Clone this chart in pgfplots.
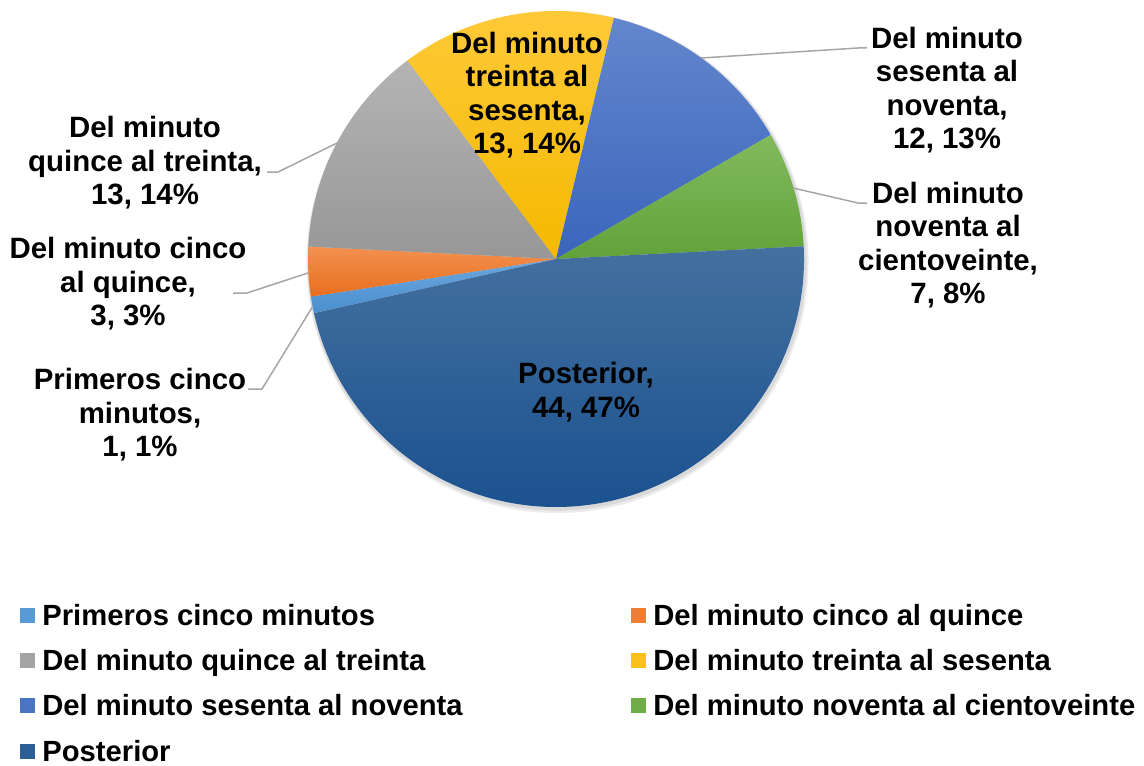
\documentclass[border=0pt]{standalone}
\usepackage{pgfplots}
\usepackage{pgfplotstable}
\pgfplotsset{compat=1.18}
\usepackage{fontspec}
\setmainfont{Liberation Sans}

% slice colours (gradient top -> bottom)
\definecolor{top0}{HTML}{6CA7DD}\definecolor{bot0}{HTML}{4A8FD0}
\definecolor{top1}{HTML}{F39150}\definecolor{bot1}{HTML}{E86E1F}
\definecolor{top2}{HTML}{B4B4B4}\definecolor{bot2}{HTML}{979797}
\definecolor{top3}{HTML}{FFCA3A}\definecolor{bot3}{HTML}{F4B900}
\definecolor{top4}{HTML}{6387CD}\definecolor{bot4}{HTML}{3A65BC}
\definecolor{top5}{HTML}{82BA5C}\definecolor{bot5}{HTML}{62A23A}
\definecolor{top6}{HTML}{44709F}\definecolor{bot6}{HTML}{1A518F}
\definecolor{leader}{HTML}{A6A6A6}

% value, label position (px)
\pgfplotstableread{
value lx  ly
1     140 415
3     128 284
13    145 163
13    527 95
12    947 90
7     948 245
44    586 392
}\piedata

\expandafter\def\csname lab0\endcsname{Primeros cinco\\minutos,}
\expandafter\def\csname lab1\endcsname{Del minuto cinco\\al quince,}
\expandafter\def\csname lab2\endcsname{Del minuto\\quince al treinta,}
\expandafter\def\csname lab3\endcsname{Del minuto\\treinta al\\sesenta,}
\expandafter\def\csname lab4\endcsname{Del minuto\\sesenta al\\noventa,}
\expandafter\def\csname lab5\endcsname{Del minuto\\noventa al\\cientoveinte,}
\expandafter\def\csname lab6\endcsname{Posterior,}

\def\lw{294.5pt}
\expandafter\def\csname leg0\endcsname{\makebox[\lw][l]{Primeros cinco minutos}}
\expandafter\def\csname leg1\endcsname{Del minuto cinco al quince}
\expandafter\def\csname leg2\endcsname{\makebox[\lw][l]{Del minuto quince al treinta}}
\expandafter\def\csname leg3\endcsname{Del minuto treinta al sesenta}
\expandafter\def\csname leg4\endcsname{\makebox[\lw][l]{Del minuto sesenta al noventa}}
\expandafter\def\csname leg5\endcsname{Del minuto noventa al cientoveinte}
\expandafter\def\csname leg6\endcsname{\makebox[\lw][l]{Posterior}}

\def\pcx{556}
\def\pcy{259}
\def\pR{248}
\def\pRpt{124pt}

\tikzset{lab/.style={align=center, inner sep=0pt,
  font=\fontsize{14.7}{16.75}\selectfont\bfseries}}

\begin{document}
\begin{tikzpicture}
\pgfplotstablegetrowsof{\piedata}
\pgfmathtruncatemacro\nlast{\pgfplotsretval-1}
\def\total{0}
\pgfplotsforeachungrouped \i in {0,...,\nlast}{%
  \pgfplotstablegetelem{\i}{value}\of\piedata
  \pgfmathsetmacro\total{\total+\pgfplotsretval}%
}
\begin{axis}[
    width=572pt, height=382.5pt, scale only axis,
    xmin=0, xmax=1144, ymin=0, ymax=765, y dir=reverse,
    hide axis, clip=false,
    legend columns=2,
    legend cell align=left,
    legend image code/.code={\fill[#1] (0pt,-3.75pt) rectangle (7.5pt,3.75pt);},
    legend style={draw=none, fill=none, inner sep=0pt,
      at={(0.01748,0.2095)}, anchor=north west,
      font=\fontsize{14.6}{16.75}\selectfont\bfseries,
      nodes={inner sep=0pt, text height=10pt, text depth=0pt},
      row sep=12.65pt,
      /tikz/every odd column/.append style={column sep=3.5pt}},
]
\coordinate (bl) at (axis cs:0,765);
\coordinate (tr) at (axis cs:1144,0);

% pie shadow
\fill[black, opacity=0.08] (axis cs:557.5,262) circle[radius=125.5pt];
\fill[black, opacity=0.08] (axis cs:557,261) circle[radius=124.8pt];

% slices, clockwise from the left
\def\cur{192.6}
\pgfplotsforeachungrouped \i in {0,...,\nlast}{%
  \pgfplotstablegetelem{\i}{value}\of\piedata \let\val\pgfplotsretval
  \pgfmathsetmacro\nxt{\cur-\val/\total*360}%
  \pgfmathsetmacro\sx{\pcx+\pR*cos(\cur)}%
  \pgfmathsetmacro\sy{\pcy-\pR*sin(\cur)}%
  \edef\tmp{%
    \noexpand\shade[top color=top\i, bottom color=bot\i]
      (axis cs:\pcx,\pcy) -- (axis cs:\sx,\sy)
      arc[start angle=\cur, end angle=\nxt, radius=\pRpt] -- cycle;
    \noexpand\addlegendimage{draw=none, fill=top\i!45!bot\i}
    \noexpand\addlegendentry{\expandafter\noexpand\csname leg\i\endcsname}
  }\tmp
  \let\cur\nxt
}

% leader lines
\draw[leader, line width=0.75pt] (axis cs:313,306) -- (axis cs:262,389) -- (axis cs:248,389);
\draw[leader, line width=0.75pt] (axis cs:308,273) -- (axis cs:247,293) -- (axis cs:233,293);
\draw[leader, line width=0.75pt] (axis cs:337,143) -- (axis cs:278,172) -- (axis cs:267,172);
\draw[leader, line width=0.75pt] (axis cs:701,58) -- (axis cs:858,48) -- (axis cs:867,48);
\draw[leader, line width=0.75pt] (axis cs:793,188) -- (axis cs:858,203) -- (axis cs:867,203);

% data labels
\pgfplotsforeachungrouped \i in {0,...,\nlast}{%
  \pgfplotstablegetelem{\i}{value}\of\piedata \let\val\pgfplotsretval
  \pgfplotstablegetelem{\i}{lx}\of\piedata \let\lx\pgfplotsretval
  \pgfplotstablegetelem{\i}{ly}\of\piedata \let\ly\pgfplotsretval
  \pgfmathtruncatemacro\pct{round(\val/\total*100)}%
  \edef\tmp{%
    \noexpand\node[lab] at (axis cs:\lx,\ly)
      {\expandafter\noexpand\csname lab\i\endcsname\noexpand\\\val, \pct\noexpand\%};
  }\tmp
}
\end{axis}
\pgfresetboundingbox
\path[use as bounding box] (bl) rectangle (tr);
\end{tikzpicture}
\end{document}
